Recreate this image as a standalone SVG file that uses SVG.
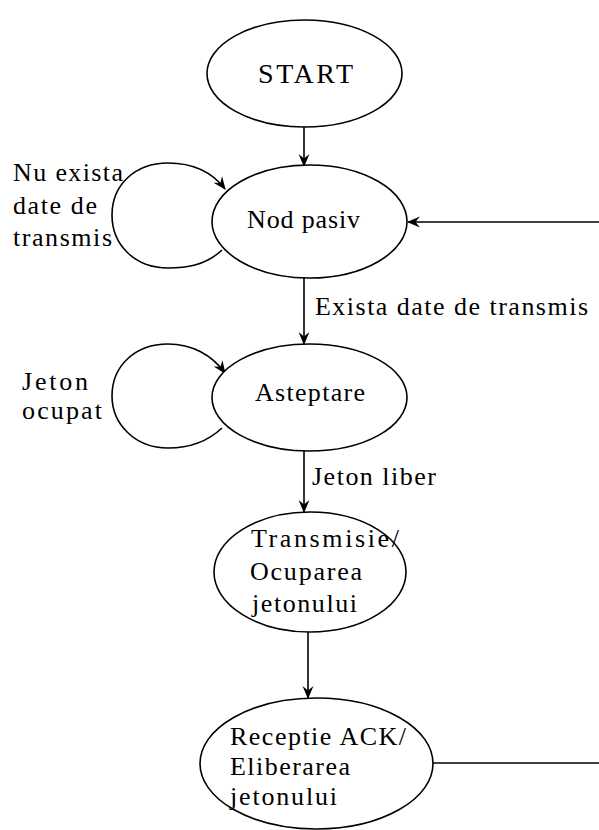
<svg xmlns="http://www.w3.org/2000/svg" width="599" height="830" viewBox="0 0 599 830">
  <style>
    .st { fill: #fff; stroke: #000; stroke-width: 1.6; }
    .ln { fill: none; stroke: #000; stroke-width: 1.6; }
    text { font-family: "Liberation Serif", "Times New Roman", serif; font-size: 26px; fill: #000; }
    .big { font-size: 28px; }
  </style>
  <defs>
    <marker id="arr" viewBox="0 0 12 12" refX="11" refY="6" markerWidth="13" markerHeight="13" markerUnits="userSpaceOnUse" orient="auto">
      <path d="M0,1 L12,6 L0,11 L4,6 z" fill="#000"/>
    </marker>
  </defs>

  <rect width="599" height="830" fill="#fff"/>

  <!-- transitions -->
  <g id="connectors">
    <line class="ln" x1="304" y1="127" x2="304" y2="166" marker-end="url(#arr)"/>
    <path class="ln" d="M222,250 C205,266 185,268 168,268 C135,268 112,245 112,215 C112,185 135,163 168,163 C192,163 212,172 225,189" marker-end="url(#arr)"/>
    <line class="ln" x1="599" y1="222" x2="408" y2="222" marker-end="url(#arr)"/>
    <line class="ln" x1="304" y1="278" x2="304" y2="344" marker-end="url(#arr)"/>
    <path class="ln" d="M222,428 C205,444 185,448 168,448 C135,448 112,424 112,396 C112,366 135,344 168,344 C192,344 212,355 225,373" marker-end="url(#arr)"/>
    <line class="ln" x1="304" y1="451" x2="304" y2="512" marker-end="url(#arr)"/>
    <line class="ln" x1="308" y1="632" x2="308" y2="698" marker-end="url(#arr)"/>
    <line class="ln" x1="433" y1="763" x2="599" y2="763"/>

    <text x="13" y="181" textLength="110" lengthAdjust="spacing">Nu exista</text>
    <text x="13" y="214" textLength="84" lengthAdjust="spacing">date de</text>
    <text x="13" y="246" textLength="99" lengthAdjust="spacing">transmis</text>
    <text x="315" y="315" textLength="273" lengthAdjust="spacing">Exista date de transmis</text>
    <text x="22" y="390" textLength="66" lengthAdjust="spacing">Jeton</text>
    <text x="22" y="419" textLength="80" lengthAdjust="spacing">ocupat</text>
    <text x="312" y="485" textLength="124" lengthAdjust="spacing">Jeton liber</text>
  </g>

  <g id="start">
    <ellipse class="st" cx="304.5" cy="73.5" rx="97.5" ry="53.5"/>
    <text class="big" x="258" y="83" textLength="95" lengthAdjust="spacing">START</text>
  </g>

  <g id="nod-pasiv">
    <ellipse class="st" cx="309.5" cy="221.5" rx="97.5" ry="56.5"/>
    <text x="247" y="228" textLength="113" lengthAdjust="spacing">Nod pasiv</text>
  </g>

  <g id="asteptare">
    <ellipse class="st" cx="309.5" cy="397.5" rx="97.5" ry="53.5"/>
    <text x="255" y="401" textLength="110" lengthAdjust="spacing">Asteptare</text>
  </g>

  <g id="transmisie">
    <ellipse class="st" cx="310" cy="572" rx="96" ry="60"/>
    <text x="251" y="547" textLength="148" lengthAdjust="spacing">Transmisie/</text>
    <text x="250" y="580" textLength="112" lengthAdjust="spacing">Ocuparea</text>
    <text x="252" y="612" textLength="105" lengthAdjust="spacing">jetonului</text>
  </g>

  <g id="receptie">
    <ellipse class="st" cx="316.5" cy="763.5" rx="116.5" ry="65.5"/>
    <text x="230" y="745" textLength="176" lengthAdjust="spacing">Receptie ACK/</text>
    <text x="230" y="775" textLength="120" lengthAdjust="spacing">Eliberarea</text>
    <text x="230" y="805" textLength="107" lengthAdjust="spacing">jetonului</text>
  </g>
</svg>
